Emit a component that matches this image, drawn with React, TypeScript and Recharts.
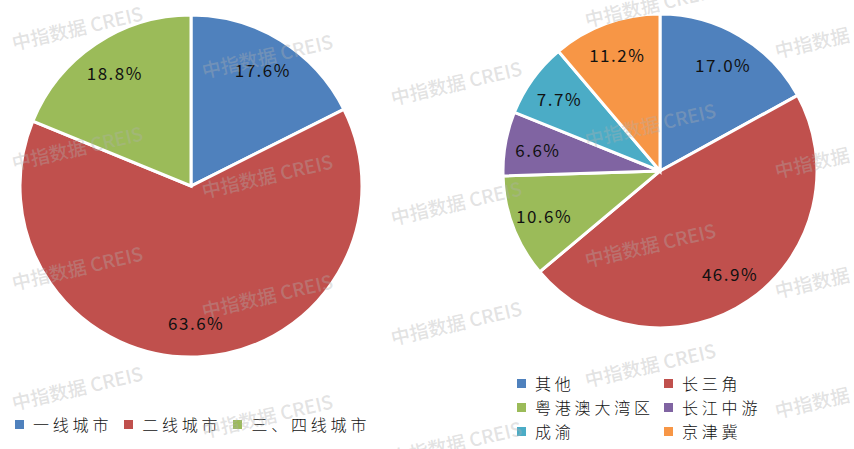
import React from 'react';
import { PieChart, Pie, Cell } from 'recharts';

const CITY_TIERS = ['一线城市', '二线城市', '三、四线城市'];
const CITY_SHARES = [17.6, 63.6, 18.8];
const CITY_COLORS = ['#4F81BD', '#C0504D', '#9BBB59'];

const REGIONS = ['其他', '长三角', '粤港澳大湾区', '长江中游', '成渝', '京津冀'];
const REGION_SHARES = [17.0, 46.9, 10.6, 6.6, 7.7, 11.2];
const REGION_COLORS = ['#4F81BD', '#C0504D', '#9BBB59', '#8064A2', '#4BACC6', '#F79646'];

const WATERMARK = '中指数据 CREIS';

const cityData = CITY_TIERS.map((name, i) => ({ name, value: CITY_SHARES[i] }));
const regionData = REGIONS.map((name, i) => ({ name, value: REGION_SHARES[i] }));

const RAD = Math.PI / 180;
const FONT = '"Noto Sans CJK SC", "Noto Sans", sans-serif';

const makeLabel = (factor: number) => (props: any) => {
  const { cx, cy, midAngle, outerRadius, value } = props;
  const r = outerRadius * factor;
  const x = cx + r * Math.cos(-midAngle * RAD);
  const y = cy + r * Math.sin(-midAngle * RAD);
  return (
    <text
      x={x}
      y={y}
      textAnchor="middle"
      dominantBaseline="central"
      fill="#111"
      fontSize={17}
      letterSpacing={1.5}
      fontFamily={FONT}
    >
      {`${Number(value).toFixed(1)}%`}
    </text>
  );
};

const wmCols = [77, 267, 456, 650, 840];
const wmOffsets = [27, 55, 82, 4, 35];
const wmMarks: { x: number; y: number }[] = [];
wmCols.forEach((x, i) => {
  for (let j = 0; j < 4; j++) wmMarks.push({ x, y: wmOffsets[i] + 120 * j });
});

const LegendItem = ({ color, label }: { color: string; label: string }) => (
  <div style={{ display: 'flex', alignItems: 'center', whiteSpace: 'nowrap' }}>
    <span style={{ width: 9, height: 9, background: color, display: 'inline-block', marginRight: 9 }} />
    <span style={{ fontSize: 16, letterSpacing: 3.8, color: '#111', fontFamily: FONT, fontWeight: 300, lineHeight: '20px' }}>
      {label}
    </span>
  </div>
);

export default function App() {
  return (
    <div style={{ position: 'absolute', left: 0, top: 0, width: 854, height: 449, background: '#fff', overflow: 'hidden' }}>
      <PieChart width={854} height={449}>
        <Pie
          data={cityData}
          dataKey="value"
          nameKey="name"
          cx={186}
          cy={181}
          outerRadius={171}
          startAngle={90}
          endAngle={-270}
          stroke="#fff"
          strokeWidth={3}
          labelLine={false}
          label={makeLabel(0.8)}
          isAnimationActive={false}
        >
          {cityData.map((d, i) => (
            <Cell key={d.name} fill={CITY_COLORS[i]} />
          ))}
        </Pie>
        <Pie
          data={regionData}
          dataKey="value"
          nameKey="name"
          cx={655}
          cy={166}
          outerRadius={157}
          startAngle={90}
          endAngle={-270}
          stroke="#fff"
          strokeWidth={3}
          labelLine={false}
          label={makeLabel(0.79)}
          isAnimationActive={false}
        >
          {regionData.map((d, i) => (
            <Cell key={d.name} fill={REGION_COLORS[i]} />
          ))}
        </Pie>
      </PieChart>

      <div style={{ position: 'absolute', left: 15, top: 414, display: 'flex', gap: 12 }}>
        {CITY_TIERS.map((n, i) => (
          <LegendItem key={n} color={CITY_COLORS[i]} label={n} />
        ))}
      </div>

      <div
        style={{
          position: 'absolute',
          left: 517,
          top: 373,
          display: 'grid',
          gridTemplateColumns: '147px 150px',
          rowGap: 4,
        }}
      >
        {REGIONS.map((n, i) => (
          <LegendItem key={n} color={REGION_COLORS[i]} label={n} />
        ))}
      </div>

      <svg width={854} height={449} style={{ position: 'absolute', left: 0, top: 0, pointerEvents: 'none' }}>
        {wmMarks.map((m, k) => (
          <text
            key={k}
            x={m.x}
            y={m.y}
            textAnchor="middle"
            dominantBaseline="central"
            fontSize={19}
            fontWeight={500}
            fontFamily={FONT}
            fill="#b0b0b0"
            fillOpacity={0.36}
            transform={`rotate(-13 ${m.x} ${m.y})`}
          >
            {WATERMARK}
          </text>
        ))}
      </svg>
    </div>
  );
}
